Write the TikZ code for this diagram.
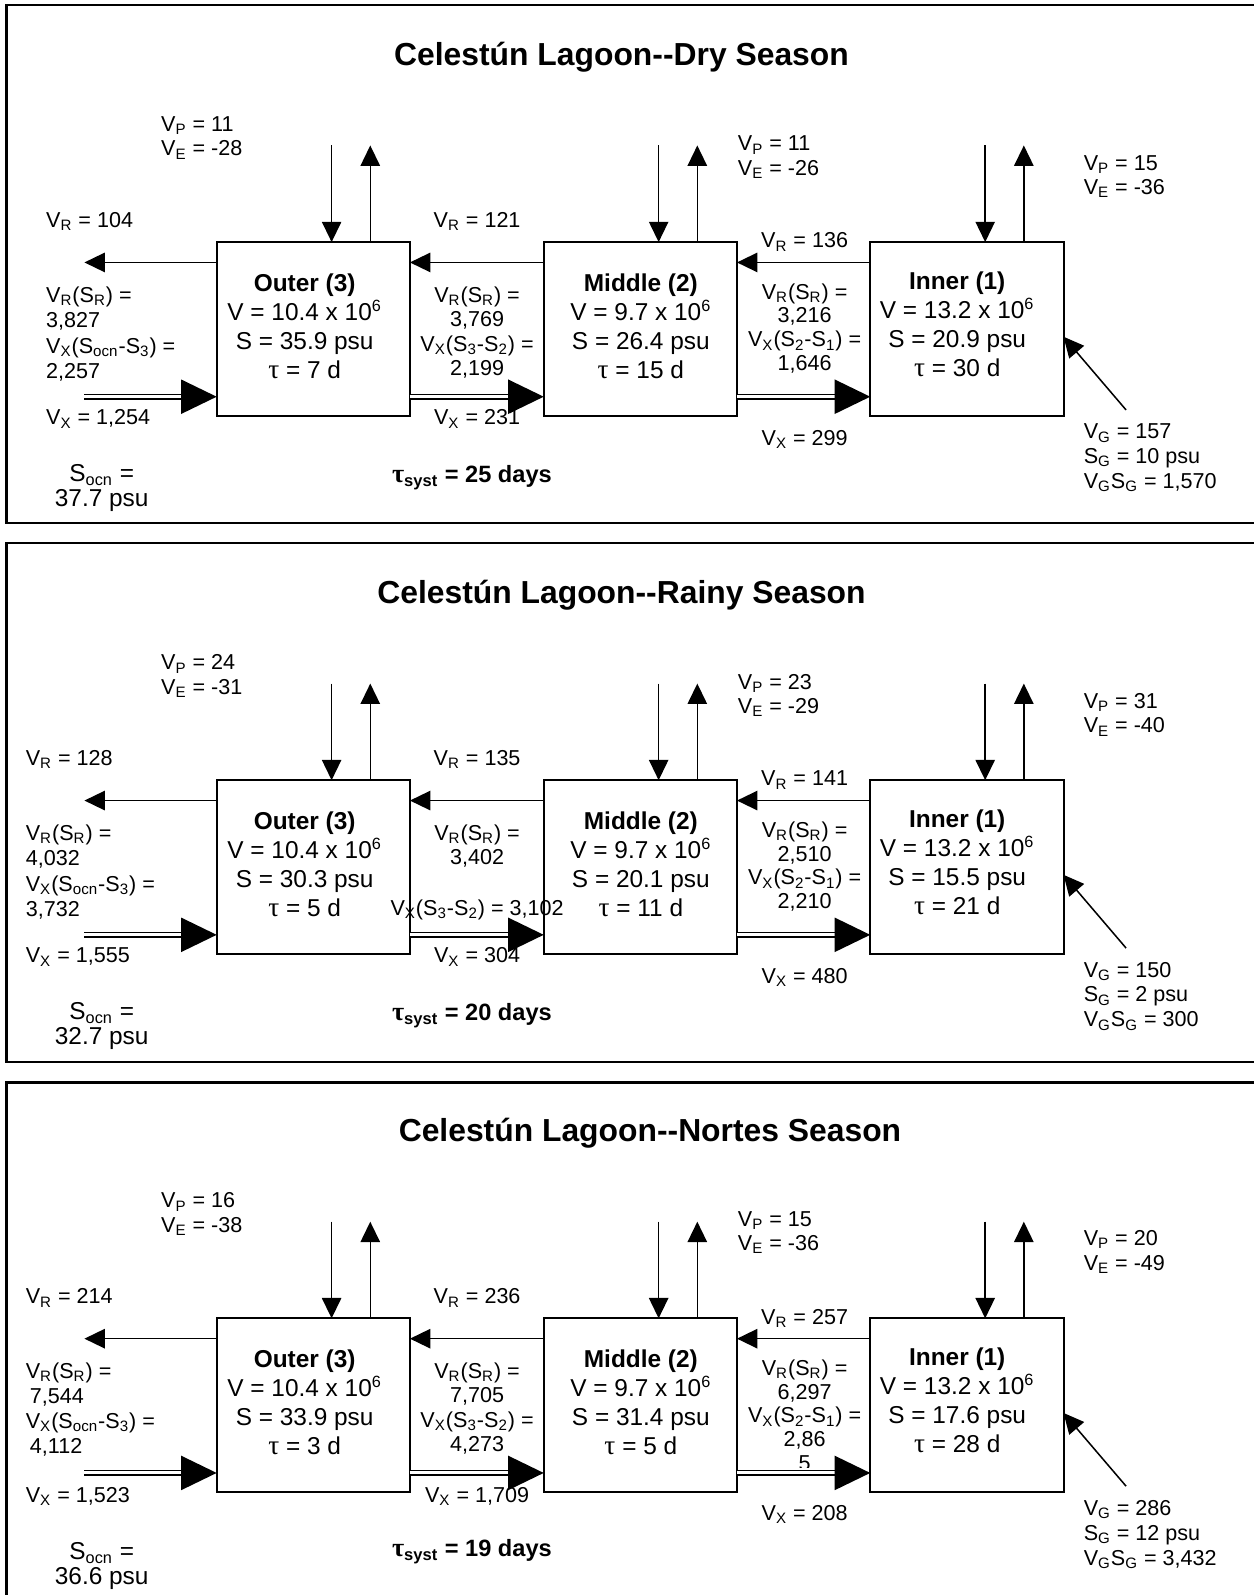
\documentclass[tikz,border=0pt]{standalone}
\usepackage{fontspec}
\setmainfont{Liberation Sans}
\newfontfamily\taufont{Liberation Serif}
\usetikzlibrary{arrows.meta,calc}

\newcommand\lsb[1]{\textsubscript{#1}}
\newcommand\lsp[1]{\textsuperscript{#1}}
\newcommand\tauch{{\taufont\scalebox{1.12}{τ}}}

\tikzset{
  x=0.5pt, y=-0.5pt,
  frame/.style={line width=1.2pt},
  reservoir/.style={draw, line width=1pt, minimum width=95pt, minimum height=85.5pt,
    inner sep=0pt, outer sep=0pt},
  boxtext/.style={align=center, inner sep=0pt, anchor=north,
    font=\fontsize{12}{14.2}\selectfont},
  flow/.style={line width=0.75pt, -{Triangle[length=10pt,width=9.5pt]}},
  mix/.style={double, double distance=1.5pt, line width=0.65pt, shorten >=14pt},
  small/.style={inner sep=0pt, font=\fontsize{10.6}{12}\selectfont},
  lbl/.style={small, anchor=base west},
  clbl/.style={small, anchor=base},
  blk/.style={small, align=left, anchor=north west},
  cblk/.style={small, align=center, anchor=north},
  ocean/.style={inner sep=0pt, align=center, anchor=north,
    font=\fontsize{12}{12}\selectfont},
  tsys/.style={inner sep=0pt, anchor=base west, font=\bfseries\fontsize{11.6}{14}\selectfont},
  title/.style={inner sep=0pt, anchor=base, font=\bfseries\fontsize{15.65}{18}\selectfont},
}

% exchange flow: double line with a large solid head
\newcommand\mixflow[2]{%
  \draw[mix] (#1) -- (#2);
  \fill (#2) -- ++(-35,-17) -- ++(0,34) -- cycle;}

% the three reservoirs with their water fluxes
\newcommand\lagoon[1]{%
  \node[reservoir] (o#1) at (308,323.5) {};
  \node[reservoir] (m#1) at (629.5,323.5) {};
  \node[reservoir] (n#1) at (950.5,323.5) {};
  \coordinate (sea#1) at (83,258);
  \coordinate (seax#1) at (83,390);
  \coordinate (gw#1) at (1107,403);
  \foreach \b in {o#1,m#1,n#1} {
    \draw[flow] ([xshift=56.5pt,yshift=47.5pt]\b.north west) -- ([xshift=56.5pt]\b.north west);
    \draw[flow] ([xshift=75.5pt]\b.north west) -- ([xshift=75.5pt,yshift=47.5pt]\b.north west);
  }
  \draw[flow] ([yshift=-10pt]n#1.north west) -- ([yshift=-10pt]m#1.north east);
  \draw[flow] ([yshift=-10pt]m#1.north west) -- ([yshift=-10pt]o#1.north east);
  \draw[flow] ([yshift=-10pt]o#1.north west) -- (sea#1);
  \mixflow{seax#1}{[yshift=9.5pt]o#1.south west}
  \mixflow{[yshift=9.5pt]o#1.south east}{[yshift=9.5pt]m#1.south west}
  \mixflow{[yshift=9.5pt]m#1.south east}{[yshift=9.5pt]n#1.south west}
  \draw[flow] (gw#1) -- ([yshift=-3.75pt]n#1.east);
}

\begin{document}
\begin{tikzpicture}
\fill[white] (0,0) rectangle (1232,1568);
\useasboundingbox (0,0) rectangle (1232,1568);

% ---------------- dry season ----------------
\begin{scope}
\draw[frame] (6.5,5) rectangle (1250,514);
\node[title] (t1) at (611,64.2) {Celestún Lagoon-{}-Dry Season};
\node[blk] (pe1a) at (158,114.3) {V\lsb{P} = 11\\V\lsb{E} = -28};
\node[blk] (pe1b) at (725,133.3) {V\lsb{P} = 11\\V\lsb{E} = -26};
\node[blk] (pe1c) at (1065,152.3) {V\lsb{P} = 15\\V\lsb{E} = -36};
\node[lbl] (r1a) at (45,223.6) {V\lsb{R} = 104};
\node[clbl] (r1b) at (469,223.6) {V\lsb{R} = 121};
\node[clbl] (r1c) at (791,243.6) {V\lsb{R} = 136};
\node[blk, font=\fontsize{10.6}{12.5}\selectfont] (s1a) at (45,281.3)
  {V\lsb{R}(S\lsb{R}) =\\3,827\\V\lsb{X}(S\lsb{ocn}-S\lsb{3}) =\\2,257};
\node[cblk] (s1b) at (469,281.3)
  {V\lsb{R}(S\lsb{R}) =\\3,769\\V\lsb{X}(S\lsb{3}-S\lsb{2}) =\\2,199};
\node[cblk, font=\fontsize{10.6}{11.7}\selectfont] (s1c) at (791,278.3)
  {V\lsb{R}(S\lsb{R}) =\\3,216\\V\lsb{X}(S\lsb{2}-S\lsb{1}) =\\1,646};
\node[lbl] (x1a) at (45,417.6) {V\lsb{X} = 1,254};
\node[clbl] (x1b) at (469,417.6) {V\lsb{X} = 231};
\node[clbl] (x1c) at (791,437.6) {V\lsb{X} = 299};
\node[ocean] (oc1) at (100,456.4) {S\lsb{ocn} =\\37.7 psu};
\node[tsys] (ts1) at (385,474.6) {\tauch\lsb{syst} = 25 days};
\node[blk, font=\fontsize{10.6}{12.25}\selectfont] (g1t) at (1065,416.3)
  {V\lsb{G} = 157\\S\lsb{G} = 10 psu\\V\lsb{G}S\lsb{G} = 1,570};
\node[boxtext] (ot1) at (299.5,269) {\textbf{Outer (3)}\\V = 10.4 x 10\lsp{6}\\S = 35.9 psu\\\tauch{} = 7 d};
\node[boxtext] (mt1) at (630,269) {\textbf{Middle (2)}\\V = 9.7 x 10\lsp{6}\\S = 26.4 psu\\\tauch{} = 15 d};
\node[boxtext] (nt1) at (941,267) {\textbf{Inner (1)}\\V = 13.2 x 10\lsp{6}\\S = 20.9 psu\\\tauch{} = 30 d};
\lagoon{1}
\end{scope}

% ---------------- rainy season ----------------
\begin{scope}[shift={(0,529)}]
\draw[frame] (6.5,5) rectangle (1250,515);
\node[title] (t2) at (611,64.2) {Celestún Lagoon-{}-Rainy Season};
\node[blk] (pe2a) at (158,114.3) {V\lsb{P} = 24\\V\lsb{E} = -31};
\node[blk] (pe2b) at (725,133.3) {V\lsb{P} = 23\\V\lsb{E} = -29};
\node[blk] (pe2c) at (1065,152.3) {V\lsb{P} = 31\\V\lsb{E} = -40};
\node[lbl] (r2a) at (25,223.6) {V\lsb{R} = 128};
\node[clbl] (r2b) at (469,223.6) {V\lsb{R} = 135};
\node[clbl] (r2c) at (791,243.6) {V\lsb{R} = 141};
\node[blk, font=\fontsize{10.6}{12.5}\selectfont] (s2a) at (25,281.3)
  {V\lsb{R}(S\lsb{R}) =\\4,032\\V\lsb{X}(S\lsb{ocn}-S\lsb{3}) =\\3,732};
\node[cblk] (s2b) at (469,281.3) {V\lsb{R}(S\lsb{R}) =\\3,402};
\node[clbl] (s2d) at (469,370.6) {V\lsb{X}(S\lsb{3}-S\lsb{2}) = 3,102};
\node[cblk, font=\fontsize{10.6}{11.7}\selectfont] (s2c) at (791,278.3)
  {V\lsb{R}(S\lsb{R}) =\\2,510\\V\lsb{X}(S\lsb{2}-S\lsb{1}) =\\2,210};
\node[lbl] (x2a) at (25,417.6) {V\lsb{X} = 1,555};
\node[clbl] (x2b) at (469,417.6) {V\lsb{X} = 304};
\node[clbl] (x2c) at (791,437.6) {V\lsb{X} = 480};
\node[ocean] (oc2) at (100,456.4) {S\lsb{ocn} =\\32.7 psu};
\node[tsys] (ts2) at (385,474.6) {\tauch\lsb{syst} = 20 days};
\node[blk, font=\fontsize{10.6}{12.25}\selectfont] (g2t) at (1065,416.3)
  {V\lsb{G} = 150\\S\lsb{G} = 2 psu\\V\lsb{G}S\lsb{G} = 300};
\node[boxtext] (ot2) at (299.5,269) {\textbf{Outer (3)}\\V = 10.4 x 10\lsp{6}\\S = 30.3 psu\\\tauch{} = 5 d};
\node[boxtext] (mt2) at (630,269) {\textbf{Middle (2)}\\V = 9.7 x 10\lsp{6}\\S = 20.1 psu\\\tauch{} = 11 d};
\node[boxtext] (nt2) at (941,267) {\textbf{Inner (1)}\\V = 13.2 x 10\lsp{6}\\S = 15.5 psu\\\tauch{} = 21 d};
\lagoon{2}
\end{scope}

% ---------------- nortes season ----------------
\begin{scope}[shift={(0,1058)}]
\draw[frame] (6.5,6) rectangle (1250,600);
\node[title] (t3) at (639,64.2) {Celestún Lagoon-{}-Nortes Season};
\node[blk] (pe3a) at (158,114.3) {V\lsb{P} = 16\\V\lsb{E} = -38};
\node[blk] (pe3b) at (725,132.3) {V\lsb{P} = 15\\V\lsb{E} = -36};
\node[blk] (pe3c) at (1065,151.3) {V\lsb{P} = 20\\V\lsb{E} = -49};
\node[lbl] (r3a) at (25,223.6) {V\lsb{R} = 214};
\node[clbl] (r3b) at (469,223.6) {V\lsb{R} = 236};
\node[clbl] (r3c) at (791,243.6) {V\lsb{R} = 257};
\node[blk, font=\fontsize{10.6}{12.3}\selectfont] (s3a) at (25,281.3)
  {V\lsb{R}(S\lsb{R}) =\\\hspace*{2pt}7,544\\V\lsb{X}(S\lsb{ocn}-S\lsb{3}) =\\\hspace*{2pt}4,112};
\node[cblk] (s3b) at (469,281.3)
  {V\lsb{R}(S\lsb{R}) =\\7,705\\V\lsb{X}(S\lsb{3}-S\lsb{2}) =\\4,273};
\begin{scope}
\clip (700,260) rectangle (880,385);
\node[cblk, font=\fontsize{10.6}{11.7}\selectfont] (s3c) at (791,278.3)
  {V\lsb{R}(S\lsb{R}) =\\6,297\\V\lsb{X}(S\lsb{2}-S\lsb{1}) =\\2,86\\5};
\end{scope}
\node[lbl] (x3a) at (25,418.6) {V\lsb{X} = 1,523};
\node[clbl] (x3b) at (469,418.6) {V\lsb{X} = 1,709};
\node[clbl] (x3c) at (791,436.6) {V\lsb{X} = 208};
\node[ocean] (oc3) at (100,458.4) {S\lsb{ocn} =\\36.6 psu};
\node[tsys] (ts3) at (385,472.6) {\tauch\lsb{syst} = 19 days};
\node[blk, font=\fontsize{10.6}{12.25}\selectfont] (g3t) at (1065,416.3)
  {V\lsb{G} = 286\\S\lsb{G} = 12 psu\\V\lsb{G}S\lsb{G} = 3,432};
\node[boxtext] (ot3) at (299.5,269) {\textbf{Outer (3)}\\V = 10.4 x 10\lsp{6}\\S = 33.9 psu\\\tauch{} = 3 d};
\node[boxtext] (mt3) at (630,269) {\textbf{Middle (2)}\\V = 9.7 x 10\lsp{6}\\S = 31.4 psu\\\tauch{} = 5 d};
\node[boxtext] (nt3) at (941,267) {\textbf{Inner (1)}\\V = 13.2 x 10\lsp{6}\\S = 17.6 psu\\\tauch{} = 28 d};
\lagoon{3}
\end{scope}
\end{tikzpicture}
\end{document}
